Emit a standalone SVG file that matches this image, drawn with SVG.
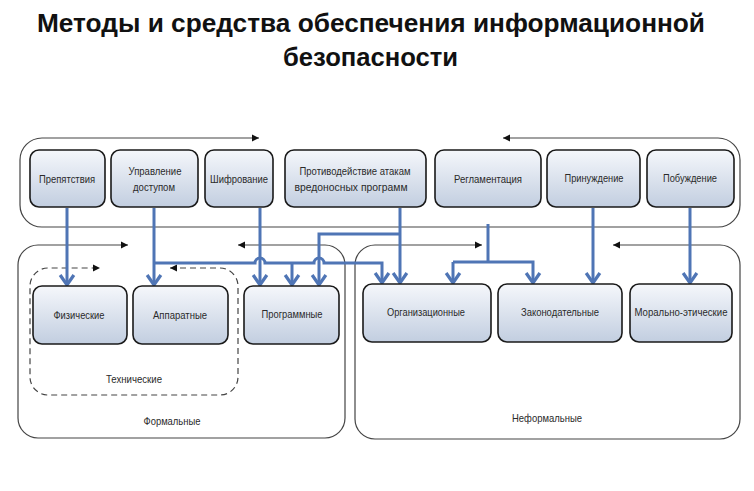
<svg xmlns="http://www.w3.org/2000/svg" width="754" height="491" viewBox="0 0 754 491">
<defs>
<linearGradient id="boxfill" x1="0" y1="0" x2="0" y2="1">
<stop offset="0" stop-color="#f5f7fb"/>
<stop offset="1" stop-color="#c2cee0"/>
</linearGradient>
<marker id="ah" markerUnits="userSpaceOnUse" markerWidth="16" markerHeight="16" refX="0" refY="0" viewBox="-10 -8 12 16" orient="auto-start-reverse" overflow="visible">
<path d="M-7,-3.5 L0,0 L-7,3.5 Z" fill="#111"/>
</marker>
<marker id="bh" markerUnits="userSpaceOnUse" markerWidth="20" markerHeight="20" refX="0" refY="0" viewBox="-10 -8 12 16" orient="auto" overflow="visible">
<path d="M-8,-5.5 L0,0 L-8,5.5" fill="none" stroke="#4f75b5" stroke-width="2.6" stroke-linejoin="miter"/>
</marker>
</defs>
<style>
.title{font-family:"Liberation Sans",Arial,sans-serif;font-weight:bold;font-size:25px;fill:#111}
.box{fill:url(#boxfill);stroke:#1a1a1a;stroke-width:1.6}
.lbl{font-family:"Liberation Sans",Arial,sans-serif;font-size:11.5px;fill:#2a2a2a;text-anchor:middle}
.grp{fill:none;stroke:#444;stroke-width:1.2}
.dash{fill:none;stroke:#444;stroke-width:1.2;stroke-dasharray:6,4}
.con{fill:none;stroke:#4f75b5;stroke-width:3}
</style>
<rect width="754" height="491" fill="#ffffff"/>
<g id="title">
<text class="title" x="37" y="32" textLength="668" lengthAdjust="spacingAndGlyphs">Методы и средства обеспечения информационной</text>
<text class="title" x="283" y="66" textLength="175" lengthAdjust="spacingAndGlyphs">безопасности</text>
</g>
<g id="containers">
<path class="grp" d="M503,138 H718 A22,22 0 0 1 740,160 V205 A22,22 0 0 1 718,227 H42 A22,22 0 0 1 20,205 V160 A22,22 0 0 1 42,138 H259" marker-start="url(#ah)" marker-end="url(#ah)"/>
<g id="formal">
<path class="grp" d="M238,245 H325 A20,20 0 0 1 345,265 V418 A20,20 0 0 1 325,438 H38 A20,20 0 0 1 18,418 V265 A20,20 0 0 1 38,245 H128" marker-start="url(#ah)" marker-end="url(#ah)"/>
<text class="lbl" x="172" y="425" textLength="57" lengthAdjust="spacingAndGlyphs">Формальные</text>
</g>
<g id="informal">
<path class="grp" d="M613,245 H720 A20,20 0 0 1 740,265 V419 A20,20 0 0 1 720,439 H375 A20,20 0 0 1 355,419 V265 A20,20 0 0 1 375,245 H482" marker-start="url(#ah)" marker-end="url(#ah)"/>
<text class="lbl" x="547" y="422" textLength="70" lengthAdjust="spacingAndGlyphs">Неформальные</text>
</g>
<g id="technical">
<path class="dash" d="M170,268 H220 A18,18 0 0 1 238,286 V377 A18,18 0 0 1 220,395 H48 A18,18 0 0 1 30,377 V286 A18,18 0 0 1 48,268 H100" marker-start="url(#ah)" marker-end="url(#ah)"/>
<text class="lbl" x="134" y="383" textLength="56" lengthAdjust="spacingAndGlyphs">Технические</text>
</g>
</g>
<g id="connectors">
<path class="con" d="M67,208 V285" marker-end="url(#bh)"/>
<path class="con" d="M154,208 V285" marker-end="url(#bh)"/>
<path class="con" d="M154,263 H255 A5,5 0 0 1 265,263 H314 A5,5 0 0 1 324,263 H382 V283" marker-end="url(#bh)"/>
<path class="con" d="M292,263 V285" marker-end="url(#bh)"/>
<path class="con" d="M260,208 V285" marker-end="url(#bh)"/>
<path class="con" d="M400,208 V283" marker-end="url(#bh)"/>
<path class="con" d="M400,234 H319 V285" marker-end="url(#bh)"/>
<path class="con" d="M488,224 V262"/>
<path class="con" d="M453,262 V283" marker-end="url(#bh)"/>
<path class="con" d="M453,262 H533 V283" marker-end="url(#bh)"/>
<path class="con" d="M593,208 V283" marker-end="url(#bh)"/>
<path class="con" d="M690,208 V283" marker-end="url(#bh)"/>
</g>
<g id="n-prep"><rect class="box" x="30" y="150" width="75" height="57" rx="9"/><text class="lbl" x="67" y="183" textLength="56" lengthAdjust="spacingAndGlyphs">Препятствия</text></g>
<g id="n-access"><rect class="box" x="111" y="150" width="87" height="57" rx="9"/><text class="lbl" x="155" y="175" textLength="53" lengthAdjust="spacingAndGlyphs">Управление</text><text class="lbl" x="154" y="191" textLength="42" lengthAdjust="spacingAndGlyphs">доступом</text></g>
<g id="n-cipher"><rect class="box" x="205" y="150" width="68" height="57" rx="9"/><text class="lbl" x="239" y="183" textLength="58" lengthAdjust="spacingAndGlyphs">Шифрование</text></g>
<g id="n-malware"><rect class="box" x="285" y="150" width="141" height="57" rx="9"/><text class="lbl" x="355" y="175" textLength="111" lengthAdjust="spacingAndGlyphs">Противодействие атакам</text><text class="lbl" x="351" y="191" textLength="113" lengthAdjust="spacingAndGlyphs">вредоносных программ</text></g>
<g id="n-regl"><rect class="box" x="435" y="150" width="106" height="57" rx="9"/><text class="lbl" x="488" y="183" textLength="68" lengthAdjust="spacingAndGlyphs">Регламентация</text></g>
<g id="n-force"><rect class="box" x="547" y="150" width="93" height="57" rx="9"/><text class="lbl" x="594" y="182" textLength="59" lengthAdjust="spacingAndGlyphs">Принуждение</text></g>
<g id="n-motiv"><rect class="box" x="647" y="150" width="87" height="57" rx="9"/><text class="lbl" x="690" y="182" textLength="54" lengthAdjust="spacingAndGlyphs">Побуждение</text></g>
<g id="n-phys"><rect class="box" x="33" y="286" width="94" height="58" rx="9"/><text class="lbl" x="79" y="319" textLength="51" lengthAdjust="spacingAndGlyphs">Физические</text></g>
<g id="n-hw"><rect class="box" x="133" y="286" width="95" height="58" rx="9"/><text class="lbl" x="180" y="319" textLength="54" lengthAdjust="spacingAndGlyphs">Аппаратные</text></g>
<g id="n-sw"><rect class="box" x="244" y="286" width="95" height="58" rx="9"/><text class="lbl" x="292" y="318" textLength="61" lengthAdjust="spacingAndGlyphs">Программные</text></g>
<g id="n-org"><rect class="box" x="363" y="284" width="128" height="58" rx="9"/><text class="lbl" x="426" y="316" textLength="78" lengthAdjust="spacingAndGlyphs">Организационные</text></g>
<g id="n-law"><rect class="box" x="498" y="284" width="124" height="58" rx="9"/><text class="lbl" x="560" y="316" textLength="78" lengthAdjust="spacingAndGlyphs">Законодательные</text></g>
<g id="n-moral"><rect class="box" x="630" y="284" width="102" height="58" rx="9"/><text class="lbl" x="681" y="316" textLength="93" lengthAdjust="spacingAndGlyphs">Морально-этические</text></g>
</svg>
